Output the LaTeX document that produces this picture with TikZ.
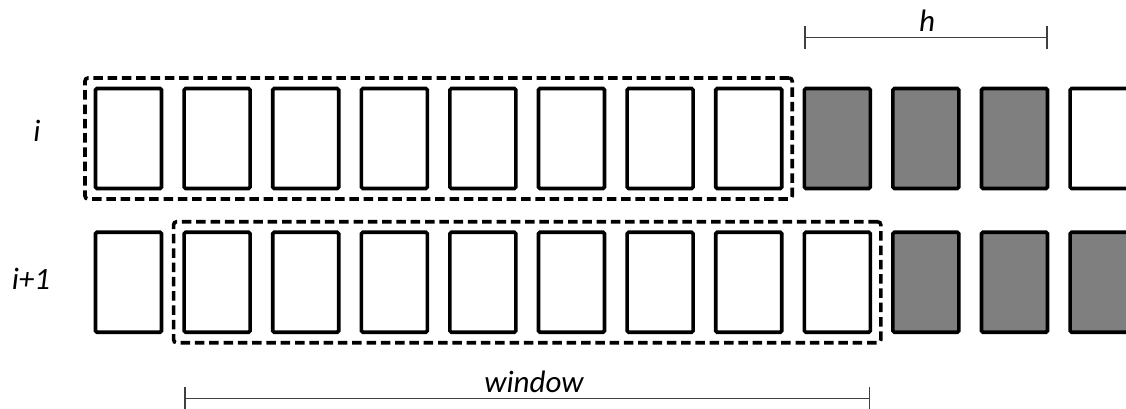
\documentclass[tikz,border=0pt]{standalone}
\usepackage{fontspec}
\setmainfont{Carlito}
\usetikzlibrary{fit,arrows.meta}
\definecolor{cellgray}{HTML}{7F7F7F}
\definecolor{brk}{HTML}{404040}
\tikzset{
  cell/.style={draw=black, line width=3.6pt, rounded corners=1.5pt, minimum width=66pt, minimum height=100pt, inner sep=0pt, outer sep=0pt},
  whitecell/.style={cell, fill=white},
  graycell/.style={cell, fill=cellgray},
  window/.style={draw=black, line width=3.6pt, dash pattern=on 9.5pt off 4.8pt, rounded corners=3pt, inner sep=10.5pt, outer sep=0pt},
  bracket/.style={draw=brk, line width=1.4pt, {Bar[width=23pt,line width=1.4pt]}-{Bar[width=23pt,line width=1.4pt]}},
  lbl/.style={font=\fontsize{31}{34}\selectfont\itshape, inner sep=0pt}
}
\begin{document}
\begin{tikzpicture}[x=1pt,y=-1pt]
\useasboundingbox (0,0) rectangle (1126,408);
\clip (0,0) rectangle (1126,408);
% row i
\foreach \k in {0,...,11}{
  \pgfmathsetmacro{\cx}{128.5+88.6*\k}
  \ifnum\k<8 \def\st{whitecell}\else\ifnum\k<11 \def\st{graycell}\else\def\st{whitecell}\fi\fi
  \node[\st] (a\k) at (\cx,138.5) {};
}
% row i+1
\foreach \k in {0,...,11}{
  \pgfmathsetmacro{\cx}{128.5+88.6*\k}
  \ifnum\k<9 \def\st{whitecell}\else\def\st{graycell}\fi
  \node[\st] (b\k) at (\cx,282.25) {};
}
\node[window, fit=(a0)(a7)] (wa) {};
\node[window, fit=(b1)(b8)] (wb) {};
% labels
\node[lbl] (li) at (37,131) {i};
\node[lbl] (li1) at (31,278.5) {i+1};
% h bracket
\coordinate (hy) at (0,37.3);
\draw[bracket] (a8.west |- hy) -- (a10.east |- hy);
\node[lbl] (hl) at (927,21) {h};
% window bracket
\coordinate (wy) at (0,398.5);
\draw[bracket] (b1.west |- wy) -- (b8.east |- wy);
\node[lbl] (wl) at (534,382) {window};
\end{tikzpicture}
\end{document}
